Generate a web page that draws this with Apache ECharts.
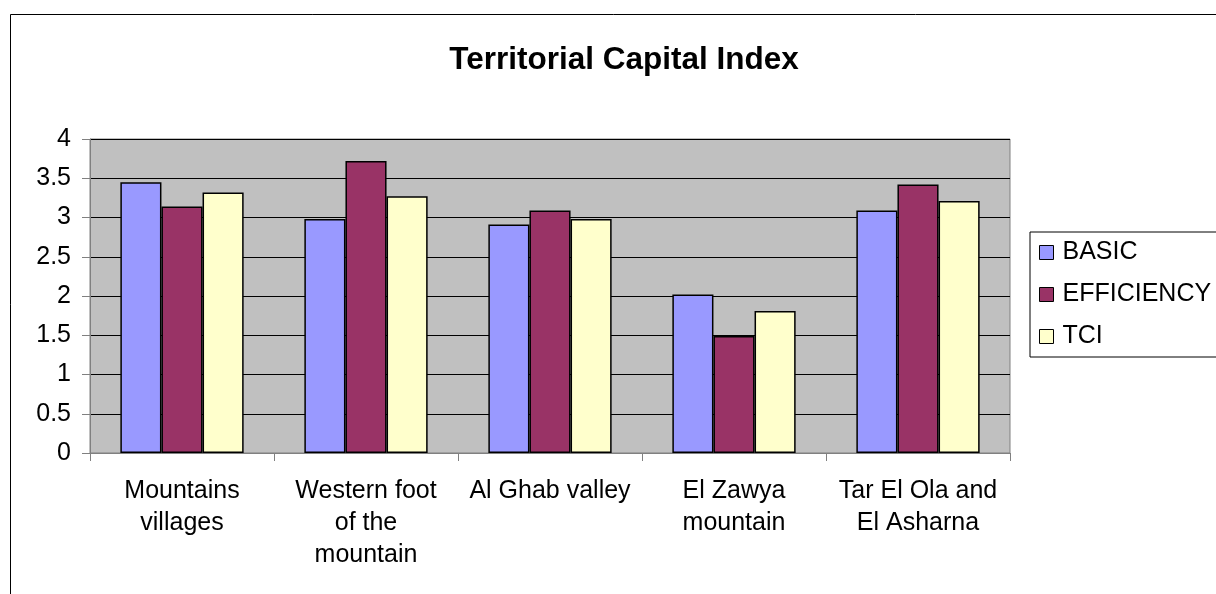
<!DOCTYPE html>
<html>
<head>
<meta charset="utf-8">
<script src="https://cdn.jsdelivr.net/npm/echarts@6/dist/echarts.min.js"></script>
<style>
  html, body { margin: 0; padding: 0; background: #fff; }
  #main { width: 1216px; height: 594px; }
</style>
</head>
<body>
<div id="main"></div>
<script>
const categories = ['Mountains\nvillages', 'Western foot\nof the\nmountain', 'Al Ghab valley', 'El Zawya\nmountain', 'Tar El Ola and\nEl Asharna'];
const basic = [3.45, 2.98, 2.91, 2.02, 3.09];
const efficiency = [3.14, 3.72, 3.09, 1.49, 3.42];
const tci = [3.32, 3.27, 2.98, 1.81, 3.21];
const seriesNames = ['BASIC', 'EFFICIENCY', 'TCI'];
const seriesColors = ['#9999FF', '#993366', '#FFFFCC'];

const font = "'Liberation Sans', Arial, sans-serif";
const chart = echarts.init(document.getElementById('main'));

const barSeries = [basic, efficiency, tci].map((vals, i) => ({
  name: seriesNames[i],
  type: 'bar',
  data: vals,
  barGap: '0%',
  barCategoryGap: '33%',
  itemStyle: { color: seriesColors[i], borderColor: '#000', borderWidth: 1.5 }
}));

chart.setOption({
  animation: false,
  backgroundColor: '#fff',
  title: {
    text: 'Territorial Capital Index',
    left: 619,
    top: 39,
    textAlign: 'center',
    textStyle: { fontFamily: font, fontSize: 31.5, fontWeight: 'bold', color: '#000' }
  },
  legend: {
    orient: 'vertical',
    left: 1030,
    top: 232,
    padding: [8, 20, 8, 9],
    itemGap: 17,
    itemWidth: 14,
    itemHeight: 14,
    icon: 'rect',
    borderColor: '#000',
    borderWidth: 1,
    itemStyle: { borderColor: '#000', borderWidth: 1 },
    textStyle: { fontFamily: font, fontSize: 25, color: '#000', padding: [0, 0, 0, 4] },
    data: seriesNames
  },
  grid: { left: 90, right: 206, top: 139, bottom: 141, show: true, backgroundColor: '#C0C0C0', borderColor: '#808080', borderWidth: 1 },
  xAxis: {
    type: 'category',
    data: categories,
    axisLine: { lineStyle: { color: '#808080', width: 1 } },
    axisTick: { show: true, length: 8, alignWithLabel: false, lineStyle: { color: '#808080' } },
    axisLabel: { interval: 0, margin: 22, fontFamily: font, fontSize: 25, color: '#000', lineHeight: 32 }
  },
  yAxis: {
    type: 'value',
    min: 0,
    max: 4,
    interval: 0.5,
    axisLine: { show: true, lineStyle: { color: '#808080', width: 1 } },
    axisTick: { show: true, length: 8, lineStyle: { color: '#808080' } },
    axisLabel: { margin: 19, fontFamily: font, fontSize: 25, color: '#000' },
    splitLine: { lineStyle: { color: '#000', width: 1 } }
  },
  graphic: [{
    type: 'rect',
    shape: { x: 10.5, y: 14.5, width: 1220, height: 600 },
    style: { fill: null, stroke: '#000', lineWidth: 1 },
    silent: true
  }],
  series: barSeries
});
</script>
</body>
</html>
